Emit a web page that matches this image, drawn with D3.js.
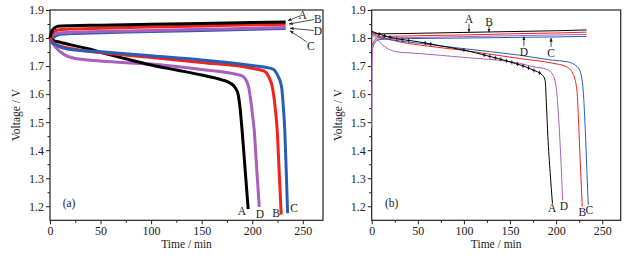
<!DOCTYPE html>
<html><head><meta charset="utf-8">
<script src="https://cdn.jsdelivr.net/npm/d3@7"></script>
<style>body{margin:0;background:#fff}svg{display:block}svg text{font-family:"Liberation Serif",Tinos,"Times New Roman",Times,"DejaVu Serif","Noto Serif",serif !important;fill:#222}</style>
</head><body><svg id="c" width="640" height="258"></svg>
<script>
// ---------- data (time in min, voltage in V) ----------
const xTicks = [0, 50, 100, 150, 200, 250];
const xMinor = [25, 75, 125, 175, 225];
const yTicks = [1.2, 1.3, 1.4, 1.5, 1.6, 1.7, 1.8, 1.9];
const yMinor = [1.25, 1.35, 1.45, 1.55, 1.65, 1.75, 1.85];
const seriesNames = ["A", "B", "C", "D"];
const seriesColors = {A: "#000000", B: "#f2231b", C: "#2a5db5", D: "#a85fbd"};

// panel (a) charge
const aChargeA = [[0,1.800],[2,1.826],[5,1.837],[8,1.842],[20,1.844],[50,1.846],[100,1.849],[150,1.852],[200,1.855],[233,1.857]];
const aChargeB = [[0,1.800],[2,1.815],[5,1.825],[8,1.829],[20,1.832],[50,1.835],[100,1.839],[150,1.843],[200,1.847],[233,1.849]];
const aChargeD = [[0,1.800],[2,1.808],[5,1.814],[8,1.817],[20,1.820],[50,1.823],[100,1.827],[150,1.831],[200,1.835],[233,1.838]];
const aChargeC = [[0,1.790],[3,1.800],[6,1.808],[10,1.813],[20,1.816],[50,1.819],[100,1.823],[150,1.827],[200,1.831],[233,1.834]];
// panel (a) discharge
const aDischA = [[0,1.800],[3,1.792],[10,1.785],[25,1.772],[40,1.760],[50,1.749],[75,1.726],[100,1.704],[125,1.686],[150,1.668],[170,1.651],[178,1.640],[183,1.624],[186,1.600],[188,1.550],[190,1.470],[193,1.330],[196,1.190]];
const aDischD = [[0,1.800],[5,1.769],[15,1.739],[25,1.727],[50,1.718],[100,1.707],[150,1.688],[180,1.674],[190,1.665],[196,1.632],[198.5,1.579],[200.5,1.520],[202,1.471],[204.5,1.330],[207,1.198]];
const aDischB = [[0,1.800],[5,1.778],[25,1.760],[50,1.748],[100,1.731],[150,1.713],[200,1.692],[212,1.682],[216,1.664],[220.5,1.614],[223,1.543],[224.7,1.471],[226.7,1.320],[228.7,1.170]];
const aDischC = [[0,1.788],[10,1.768],[25,1.757],[50,1.751],[100,1.737],[150,1.722],[200,1.702],[220,1.690],[225,1.668],[229,1.626],[231,1.543],[232.2,1.471],[233.7,1.320],[235,1.175]];

// panel (b) charge
const bChargeA = [[0,1.822],[3,1.816],[10,1.815],[50,1.817],[100,1.820],[150,1.823],[200,1.826],[233,1.829]];
const bChargeB = [[0,1.772],[3,1.792],[8,1.804],[20,1.806],[100,1.811],[150,1.815],[200,1.818],[233,1.821]];
const bChargeD = [[0,1.480],[0.4,1.700],[1.5,1.772],[4,1.790],[10,1.799],[50,1.802],[100,1.805],[150,1.808],[200,1.811],[233,1.813]];
const bChargeC = [[0,1.760],[3,1.781],[8,1.794],[20,1.797],[100,1.800],[150,1.802],[200,1.804],[233,1.806]];
// panel (b) discharge
const bDischA = [[0,1.824],[10,1.812],[25,1.799],[50,1.787],[75,1.772],[100,1.757],[125,1.737],[150,1.715],[175,1.686],[185,1.668],[188,1.650],[189.5,1.560],[191,1.450],[193.5,1.320],[196,1.210]];
const bDischD = [[0,1.810],[5,1.799],[10,1.781],[27,1.751],[50,1.745],[100,1.731],[160,1.710],[175,1.698],[190,1.688],[196.5,1.668],[200,1.625],[202,1.550],[203.5,1.471],[205.5,1.340],[207,1.221]];
const bDischB = [[0,1.820],[10,1.805],[25,1.790],[52,1.775],[100,1.756],[160,1.727],[196.5,1.710],[211,1.698],[218,1.674],[222.5,1.614],[224.7,1.471],[226.5,1.330],[228.3,1.198]];
const bDischC = [[0,1.815],[10,1.800],[25,1.792],[52,1.781],[100,1.762],[160,1.739],[196,1.721],[211,1.716],[220,1.705],[225.4,1.686],[229,1.626],[231.6,1.471],[233.3,1.330],[234.8,1.205]];
// times at which the (b) black curve shows cross markers
const bMarkTimesA = [8, 14, 20, 27, 33, 40, 58, 64, 100, 122, 128, 134, 140, 146, 152, 158, 164, 170, 176, 182];

// labels: [text, t, V]
const aEndLabels = [["A",189.9,1.183],["D",207.7,1.172],["B",223.5,1.176],["C",241.3,1.194]];
const bEndLabels = [["A",195.8,1.195],["D",208.5,1.202],["B",228.4,1.178],["C",236,1.187]];
// arrows: [text, labelT, labelV, fromT, fromV, toT, toV]
const aArrows = [["A",250,1.882,247.3,1.879,235.4,1.862],["B",265,1.868,261,1.866,236.4,1.850],["D",265,1.825,261,1.827,237.4,1.835],["C",258,1.772,254,1.786,237.4,1.826]];
const bArrows = [["A",105.5,1.868,105.5,1.851,105.5,1.821],["B",127.2,1.857,127.2,1.843,127.2,1.821],["D",165,1.750,165,1.771,165,1.805],["C",194.5,1.747,194.5,1.768,194.5,1.800]];
const panelTags = [["(a)",18.8,1.212],["(b)",21.7,1.212]];

// ---------- drawing ----------
const FONT = '"Liberation Serif", Tinos, "Times New Roman", Times, "DejaVu Serif", serif';
const svg = d3.select("#c");
const y = d3.scaleLinear().domain([1.15, 1.9]).range([220.3, 10]);
const xa = d3.scaleLinear().domain([0, 270]).range([50, 323]);
const xb = d3.scaleLinear().domain([0, 270]).range([371.7, 620.7]);

svg.append("defs").append("marker").attr("id","arr").attr("viewBox","0 0 10 10")
  .attr("refX",9).attr("refY",5).attr("markerWidth",5).attr("markerHeight",5).attr("orient","auto")
  .append("path").attr("d","M0,1 L10,5 L0,9 Z").attr("fill","#222");

function panel(x, opts) {
  const g = svg.append("g").attr("font-family", FONT);
  const axB = g.append("g").attr("transform", `translate(0,${y.range()[0]})`);
  axB.call(d3.axisBottom(x).tickValues(xTicks).tickSize(4).tickPadding(2).tickFormat(d3.format("d")));
  axB.append("g").call(d3.axisBottom(x).tickValues(xMinor).tickSize(2.5).tickFormat(""));
  const axL = g.append("g").attr("transform", `translate(${x.range()[0]},0)`);
  axL.call(d3.axisLeft(y).tickValues(yTicks).tickSize(4).tickPadding(2).tickFormat(d3.format(".1f")));
  axL.append("g").call(d3.axisLeft(y).tickValues(yMinor).tickSize(2.5).tickFormat(""));
  g.selectAll(".domain").remove();
  g.selectAll("g").attr("font-family", FONT);
  g.selectAll(".tick text").attr("font-size", 12).attr("fill","#222");
  g.selectAll(".tick line").attr("stroke","#222");
  g.append("rect").attr("x", x.range()[0]).attr("y", y.range()[1])
    .attr("width", x.range()[1]-x.range()[0]).attr("height", y.range()[0]-y.range()[1])
    .attr("fill","none").attr("stroke","#222").attr("stroke-width",1.2);
  g.append("text").attr("x", (x.range()[0]+x.range()[1])/2).attr("y", 248)
    .attr("text-anchor","middle").attr("font-size",11.5).text("Time / min");
  g.append("text").attr("transform", `translate(${x.range()[0]-30},115) rotate(-90)`)
    .attr("text-anchor","middle").attr("font-size",11.5).text("Voltage / V");

  const line = d3.line().x(d => x(d[0])).y(d => y(d[1])).curve(d3.curveMonotoneX);
  const lay = g.append("g");
  opts.series.forEach(s => {
    lay.append("path").attr("d", line(s.data)).attr("fill","none")
      .attr("stroke", seriesColors[s.name]).attr("stroke-width", opts.sw)
      .attr("stroke-linejoin","round").attr("stroke-linecap","butt");
  });
  if (opts.marks) {
    const p = lay.append("path").attr("d", line(opts.marks.data)).attr("fill","none").attr("stroke","none");
    const node = p.node(), L = node.getTotalLength();
    opts.marks.times.forEach(t => {
      // find point on path at time t by bisection on length
      let lo = 0, hi = L;
      for (let i = 0; i < 30; i++) { const m = (lo+hi)/2; if (node.getPointAtLength(m).x < x(t)) lo = m; else hi = m; }
      const pt = node.getPointAtLength(lo);
      lay.append("line").attr("x1",pt.x).attr("x2",pt.x).attr("y1",pt.y-2).attr("y2",pt.y+2)
        .attr("stroke","#000").attr("stroke-width",0.8);
      lay.append("line").attr("x1",pt.x-1.5).attr("x2",pt.x+1.5).attr("y1",pt.y).attr("y2",pt.y)
        .attr("stroke","#000").attr("stroke-width",0.8);
    });
  }
  opts.endLabels.forEach(l => {
    g.append("text").attr("x", x(l[1])).attr("y", y(l[2])).attr("text-anchor","middle")
      .attr("dominant-baseline","central").attr("font-size",11.5).text(l[0]);
  });
  opts.arrows.forEach(a => {
    g.append("line").attr("x1", x(a[3])).attr("y1", y(a[4])).attr("x2", x(a[5])).attr("y2", y(a[6]))
      .attr("stroke","#222").attr("stroke-width",0.8).attr("marker-end","url(#arr)");
    g.append("text").attr("x", x(a[1])).attr("y", y(a[2])).attr("text-anchor","middle")
      .attr("dominant-baseline","central").attr("font-size",11.5).text(a[0]);
  });
  g.append("text").attr("x", x(opts.tag[1])).attr("y", y(opts.tag[2])).attr("text-anchor","middle")
    .attr("dominant-baseline","central").attr("font-size",11.5).text(opts.tag[0]);
}

panel(xa, {
  sw: 3,
  series: [
    {name:"C", data:aChargeC},{name:"D", data:aChargeD},{name:"B", data:aChargeB},{name:"A", data:aChargeA},
    {name:"D", data:aDischD},{name:"A", data:aDischA},{name:"B", data:aDischB},{name:"C", data:aDischC}
  ],
  endLabels: aEndLabels, arrows: aArrows, tag: panelTags[0]
});
panel(xb, {
  sw: 1,
  series: [
    {name:"C", data:bChargeC},{name:"D", data:bChargeD},{name:"B", data:bChargeB},{name:"A", data:bChargeA},
    {name:"D", data:bDischD},{name:"B", data:bDischB},{name:"C", data:bDischC},{name:"A", data:bDischA}
  ],
  marks: {data: bDischA, times: bMarkTimesA},
  endLabels: bEndLabels, arrows: bArrows, tag: panelTags[1]
});
</script></body></html>
